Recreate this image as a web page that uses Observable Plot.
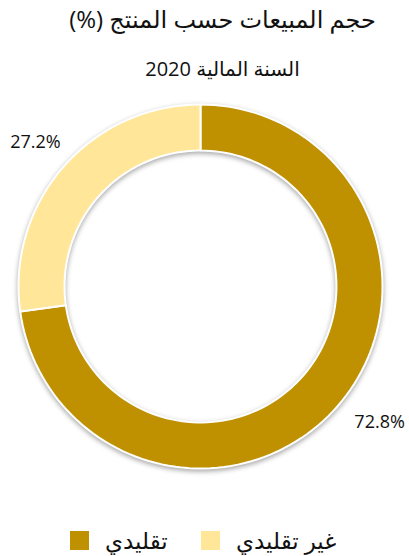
<!DOCTYPE html>
<html><head><meta charset="utf-8">
<script src="https://cdn.jsdelivr.net/npm/d3@7"></script>
<script src="https://cdn.jsdelivr.net/npm/@observablehq/plot@0.6"></script>
<style>
body{margin:0;background:#fff;font-family:"Open Sans","DejaVu Sans",sans-serif;}
#wrap{position:relative;width:409px;height:556px;overflow:hidden;}
.t{position:absolute;left:0;width:409px;text-align:center;color:#111;white-space:nowrap;}
#title{top:2px;font-size:24px;padding-left:36px;box-sizing:border-box;}
#sub{top:55px;font-size:20px;padding-left:36px;box-sizing:border-box;}
#chart{position:absolute;left:0;top:90px;}
#chart g[aria-label="line"]{filter:drop-shadow(0px 2px 2.5px rgba(0,0,0,0.35));}
.it{position:absolute;top:524px;display:flex;align-items:center;font-size:23px;color:#111;white-space:nowrap;}
.sw{width:19px;height:19px;display:inline-block;margin-right:16px;}
</style></head>
<body><div id="wrap">
<div id="title" class="t" dir="rtl">حجم المبيعات حسب المنتج (%)</div>
<div id="sub" class="t" dir="rtl">السنة المالية 2020</div>
<div id="chart"></div>
</div>
<script>
const categories = ["تقليدي", "غير تقليدي"];
const values = [72.8, 27.2];
const labels = ["72.8%", "27.2%"];
const colors = ["#BF9000", "#FFE699"];

const inner = 0.747, labelR = 1.21;
const arcs = d3.pie().sort(null)(values);
const pts = [];
const lab = [];
arcs.forEach((a, i) => {
  const n = 120;
  const ring = [];
  for (let k = 0; k <= n; k++) { const t = a.startAngle + (a.endAngle - a.startAngle) * k / n; ring.push([Math.sin(t), Math.cos(t)]); }
  for (let k = n; k >= 0; k--) { const t = a.startAngle + (a.endAngle - a.startAngle) * k / n; ring.push([inner * Math.sin(t), inner * Math.cos(t)]); }
  ring.push(ring[0]);
  ring.forEach(([x, y]) => pts.push({x, y, cat: categories[i]}));
  const m = (a.startAngle + a.endAngle) / 2;
  lab.push({x: labelR * Math.sin(m), y: labelR * Math.cos(m), text: labels[i], i});
});

const chart = Plot.plot({
  width: 409, height: 400,
  marginLeft: 18, marginRight: 27, marginTop: 14, marginBottom: 22,
  x: {domain: [-1, 1], axis: null},
  y: {domain: [-1, 1], axis: null},
  color: {domain: categories, range: colors},
  style: {fontFamily: '"Open Sans","DejaVu Sans",sans-serif', overflow: "visible"},
  marks: [
    Plot.line(pts, {x: "x", y: "y", z: "cat", fill: "cat", stroke: "white", strokeWidth: 2, strokeLinejoin: "round", curve: "linear"}),
    Plot.text(lab.filter(d => d.i === 0), {x: "x", y: "y", text: "text", fontSize: 18, fill: "#111", dx: 13, dy: -9}),
    Plot.text(lab.filter(d => d.i === 1), {x: "x", y: "y", text: "text", fontSize: 18, fill: "#111", dx: 1, dy: 0})
  ]
});
document.getElementById("chart").appendChild(chart);

const wrap = document.getElementById("wrap");
const lefts = [70, 201];
categories.forEach((c, i) => {
  const it = document.createElement("div"); it.className = "it"; it.style.left = lefts[i] + "px";
  const sw = document.createElement("span"); sw.className = "sw"; sw.style.background = colors[i];
  const tx = document.createElement("span"); tx.textContent = c;
  it.appendChild(sw); it.appendChild(tx); wrap.appendChild(it);
});
</script></body></html>
